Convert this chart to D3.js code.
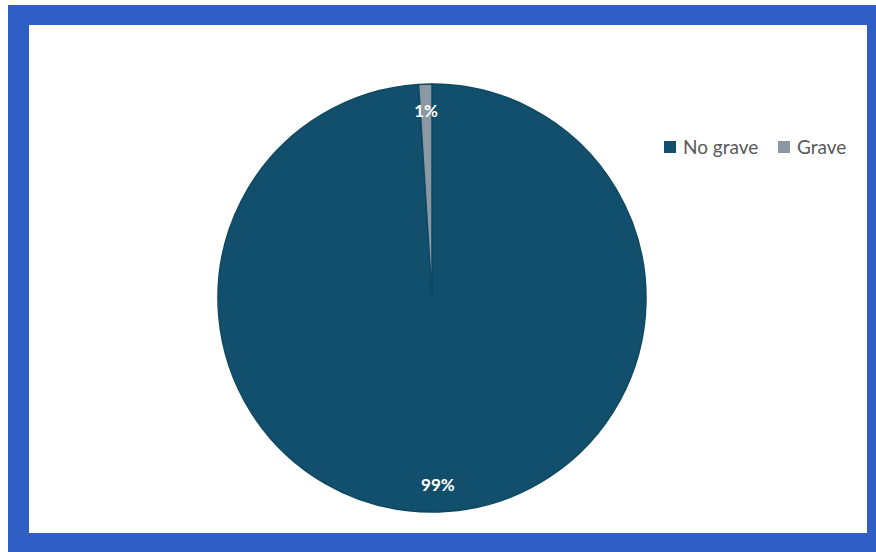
<!DOCTYPE html>
<html>
<head>
<meta charset="utf-8">
<script src="https://cdn.jsdelivr.net/npm/d3@7"></script>
<style>
  body { margin: 0; background: #fff; }
  svg { display: block; }
</style>
</head>
<body>
<svg id="chart"></svg>
<script>
const categories = ["No grave", "Grave"];
const values = [99, 1];
const labels = ["99%", "1%"];
const colors = ["#114f6c", "#8c98a1"];

const W = 876, H = 552;
const svg = d3.select("#chart").attr("width", W).attr("height", H);

// blue frame + white panel
svg.append("rect").attr("x", 8).attr("y", 5).attr("width", W - 8).attr("height", H - 5).attr("fill", "#2f5ec4");
svg.append("rect").attr("x", 29).attr("y", 25).attr("width", 838).attr("height", 508).attr("fill", "#fff");

const cx = 432, cy = 298, r = 214;
const g = svg.append("g").attr("transform", `translate(${cx},${cy})`);

const data = categories.map((c, i) => ({ name: c, value: values[i], label: labels[i], color: colors[i] }));
const pie = d3.pie().sort(null).value(d => d.value);
const arc = d3.arc().innerRadius(0).outerRadius(r);
const labelArc = d3.arc().innerRadius(r * 0.875).outerRadius(r * 0.875);

const arcs = pie(data);

g.selectAll("path")
  .data(arcs)
  .enter().append("path")
  .attr("d", arc)
  .attr("fill", d => d.data.color)
  .attr("stroke", "#0e4863")
  .attr("stroke-width", 1.5)
  .attr("stroke-linejoin", "round");

g.selectAll("text.lbl")
  .data(arcs)
  .enter().append("text")
  .attr("class", "lbl")
  .attr("transform", d => `translate(${labelArc.centroid(d)})`)
  .attr("text-anchor", "middle")
  .attr("dy", "0.35em")
  .attr("fill", "#fff")
  .attr("font-family", "Lato, 'Liberation Sans', sans-serif")
  .attr("font-weight", "bold")
  .attr("font-size", 17)
  .text(d => d.data.label);

// legend
const legend = svg.append("g").attr("transform", "translate(664,147)");
const legX = [0, 114];
const item = legend.selectAll("g")
  .data(data)
  .enter().append("g")
  .attr("transform", (d, i) => `translate(${legX[i]},0)`);
item.append("rect")
  .attr("x", 0).attr("y", -6)
  .attr("width", 12).attr("height", 12)
  .attr("fill", d => d.color);
item.append("text")
  .attr("x", 19).attr("y", 0)
  .attr("dy", "0.35em")
  .attr("fill", "#595959")
  .attr("font-family", "Lato, 'Liberation Sans', sans-serif")
  .attr("font-size", 19)
  .text(d => d.name);
</script>
</body>
</html>
